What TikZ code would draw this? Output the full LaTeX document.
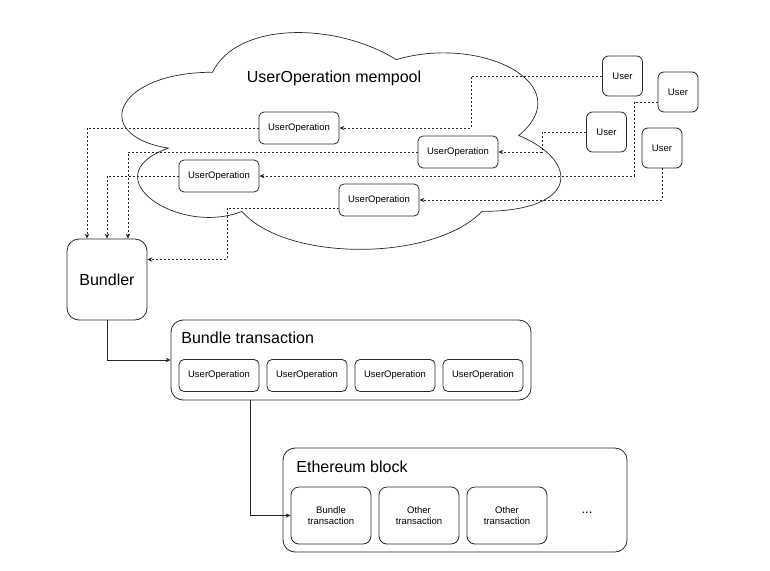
\documentclass[tikz,border=0pt]{standalone}
\usepackage{fontspec}
\setmainfont{Liberation Sans}
\usetikzlibrary{arrows.meta,calc}
\begin{document}
\begin{tikzpicture}[x=1pt,y=-1pt,
  line width=0.8pt,
  box/.style={draw=black!85, rounded corners=5pt, inner sep=0pt, align=center},
  uop/.style={box, minimum width=80pt, minimum height=32pt, font=\fontsize{9.5}{11}\selectfont},
  usr/.style={box, rounded corners=6pt, minimum width=40pt, minimum height=40pt, font=\fontsize{9.5}{11}\selectfont},
  txb/.style={box, rounded corners=8pt, minimum width=80pt, minimum height=57pt, font=\fontsize{9.5}{11.5}\selectfont},
  cont/.style={draw=black!85, rounded corners=12pt, inner sep=0pt},
  big/.style={font=\fontsize{16}{19}\selectfont, inner sep=0pt},
  dconn/.style={draw=black!85, line width=0.8pt, dash pattern=on 2pt off 2pt, -{Stealth[length=5pt,width=4.5pt]}},
  sconn/.style={draw=black!85, line width=0.8pt, -{Stealth[length=5pt,width=4.5pt]}}]
\useasboundingbox (0,0) rectangle (770,570);

% cloud
\draw[black!85, line width=0.7pt] (212.5,72.25)
  .. controls (114.5,72.25) and (90,135.5) .. (168.4,148.15)
  .. controls (90,175.98) and (178.2,236.7) .. (241.9,211.4)
  .. controls (286,262) and (433,262) .. (482,211.4)
  .. controls (580,211.4) and (580,160.8) .. (518.75,135.5)
  .. controls (580,84.9) and (482,34.3) .. (396.25,59.6)
  .. controls (335,21.65) and (237,21.65) .. (212.5,72.25) -- cycle;
\node[big] (mempool) at (334,78) {UserOperation mempool};

% user operations in mempool
\node[uop, fill=white] (A) at (299,128) {UserOperation};
\node[uop, fill=white] (B) at (458,152) {UserOperation};
\node[uop, fill=white] (C) at (219,176) {UserOperation};
\node[uop, fill=white] (D) at (379,200) {UserOperation};

% users
\node[usr] (U1) at (622.5,76) {User};
\node[usr] (U2) at (678,92) {User};
\node[usr] (U3) at (606.5,132) {User};
\node[usr] (U4) at (662,148) {User};

% bundler
\node[box, rounded corners=12pt, minimum width=80pt, minimum height=81pt, font=\fontsize{16}{19}\selectfont] (Bundler) at (107,279.5) {Bundler};

% bundle transaction
\node[cont, minimum width=360pt, minimum height=80pt] (BT) at (351,360) {};
\node[big, anchor=west] (BTl) at (181,338) {Bundle transaction};
\node[uop] (T1) at (219,375.5) {UserOperation};
\node[uop] (T2) at (307,375.5) {UserOperation};
\node[uop] (T3) at (395,375.5) {UserOperation};
\node[uop] (T4) at (483,375.5) {UserOperation};

% ethereum block
\node[cont, minimum width=344pt, minimum height=104pt] (EB) at (455,500) {};
\node[big, anchor=west] (EBl) at (296,467) {Ethereum block};
\node[txb] (E1) at (331,515.5) {Bundle\\transaction};
\node[txb] (E2) at (419,515.5) {Other\\transaction};
\node[txb] (E3) at (507,515.5) {Other\\transaction};
\node[font=\fontsize{13}{15}\selectfont] (dots) at (587,513) {...};

% turning points
\coordinate (k1) at (471,0);
\coordinate (k2) at (634,0);
\coordinate (k3) at (542,0);
\coordinate (k4) at (227,0);
\coordinate (U2w) at ([yshift=-10pt]U2.west);
\coordinate (Dw) at ([yshift=-8pt]D.west);
\coordinate (Be) at ([yshift=20pt]Bundler.east);

% users to user operations
\draw[dconn] (U1.west) -- (U1.west -| k1) -- (A.east -| k1) -- (A.east);
\draw[dconn] (U3.west) -- (U3.west -| k3) -- (B.east -| k3) -- (B.east);
\draw[dconn] (U2w) -- (U2w -| k2) -- (C.east -| k2) -- (C.east);
\draw[dconn] (U4.south) |- (D.east);

% user operations to bundler
\draw[dconn] (A.west) -| ($(Bundler.north)+(-20,0)$);
\draw[dconn] (B.west) -| ($(Bundler.north)+(21,0)$);
\draw[dconn] (C.west) -| (Bundler.north);
\draw[dconn] (Dw) -- (Dw -| k4) -- (Be -| k4) -- (Be);

% solid connectors
\draw[sconn] (Bundler.south) |- (BT.west);
\draw[sconn] ($(BT.south west)+(80,0)$) |- (E1.west);
\end{tikzpicture}
\end{document}
